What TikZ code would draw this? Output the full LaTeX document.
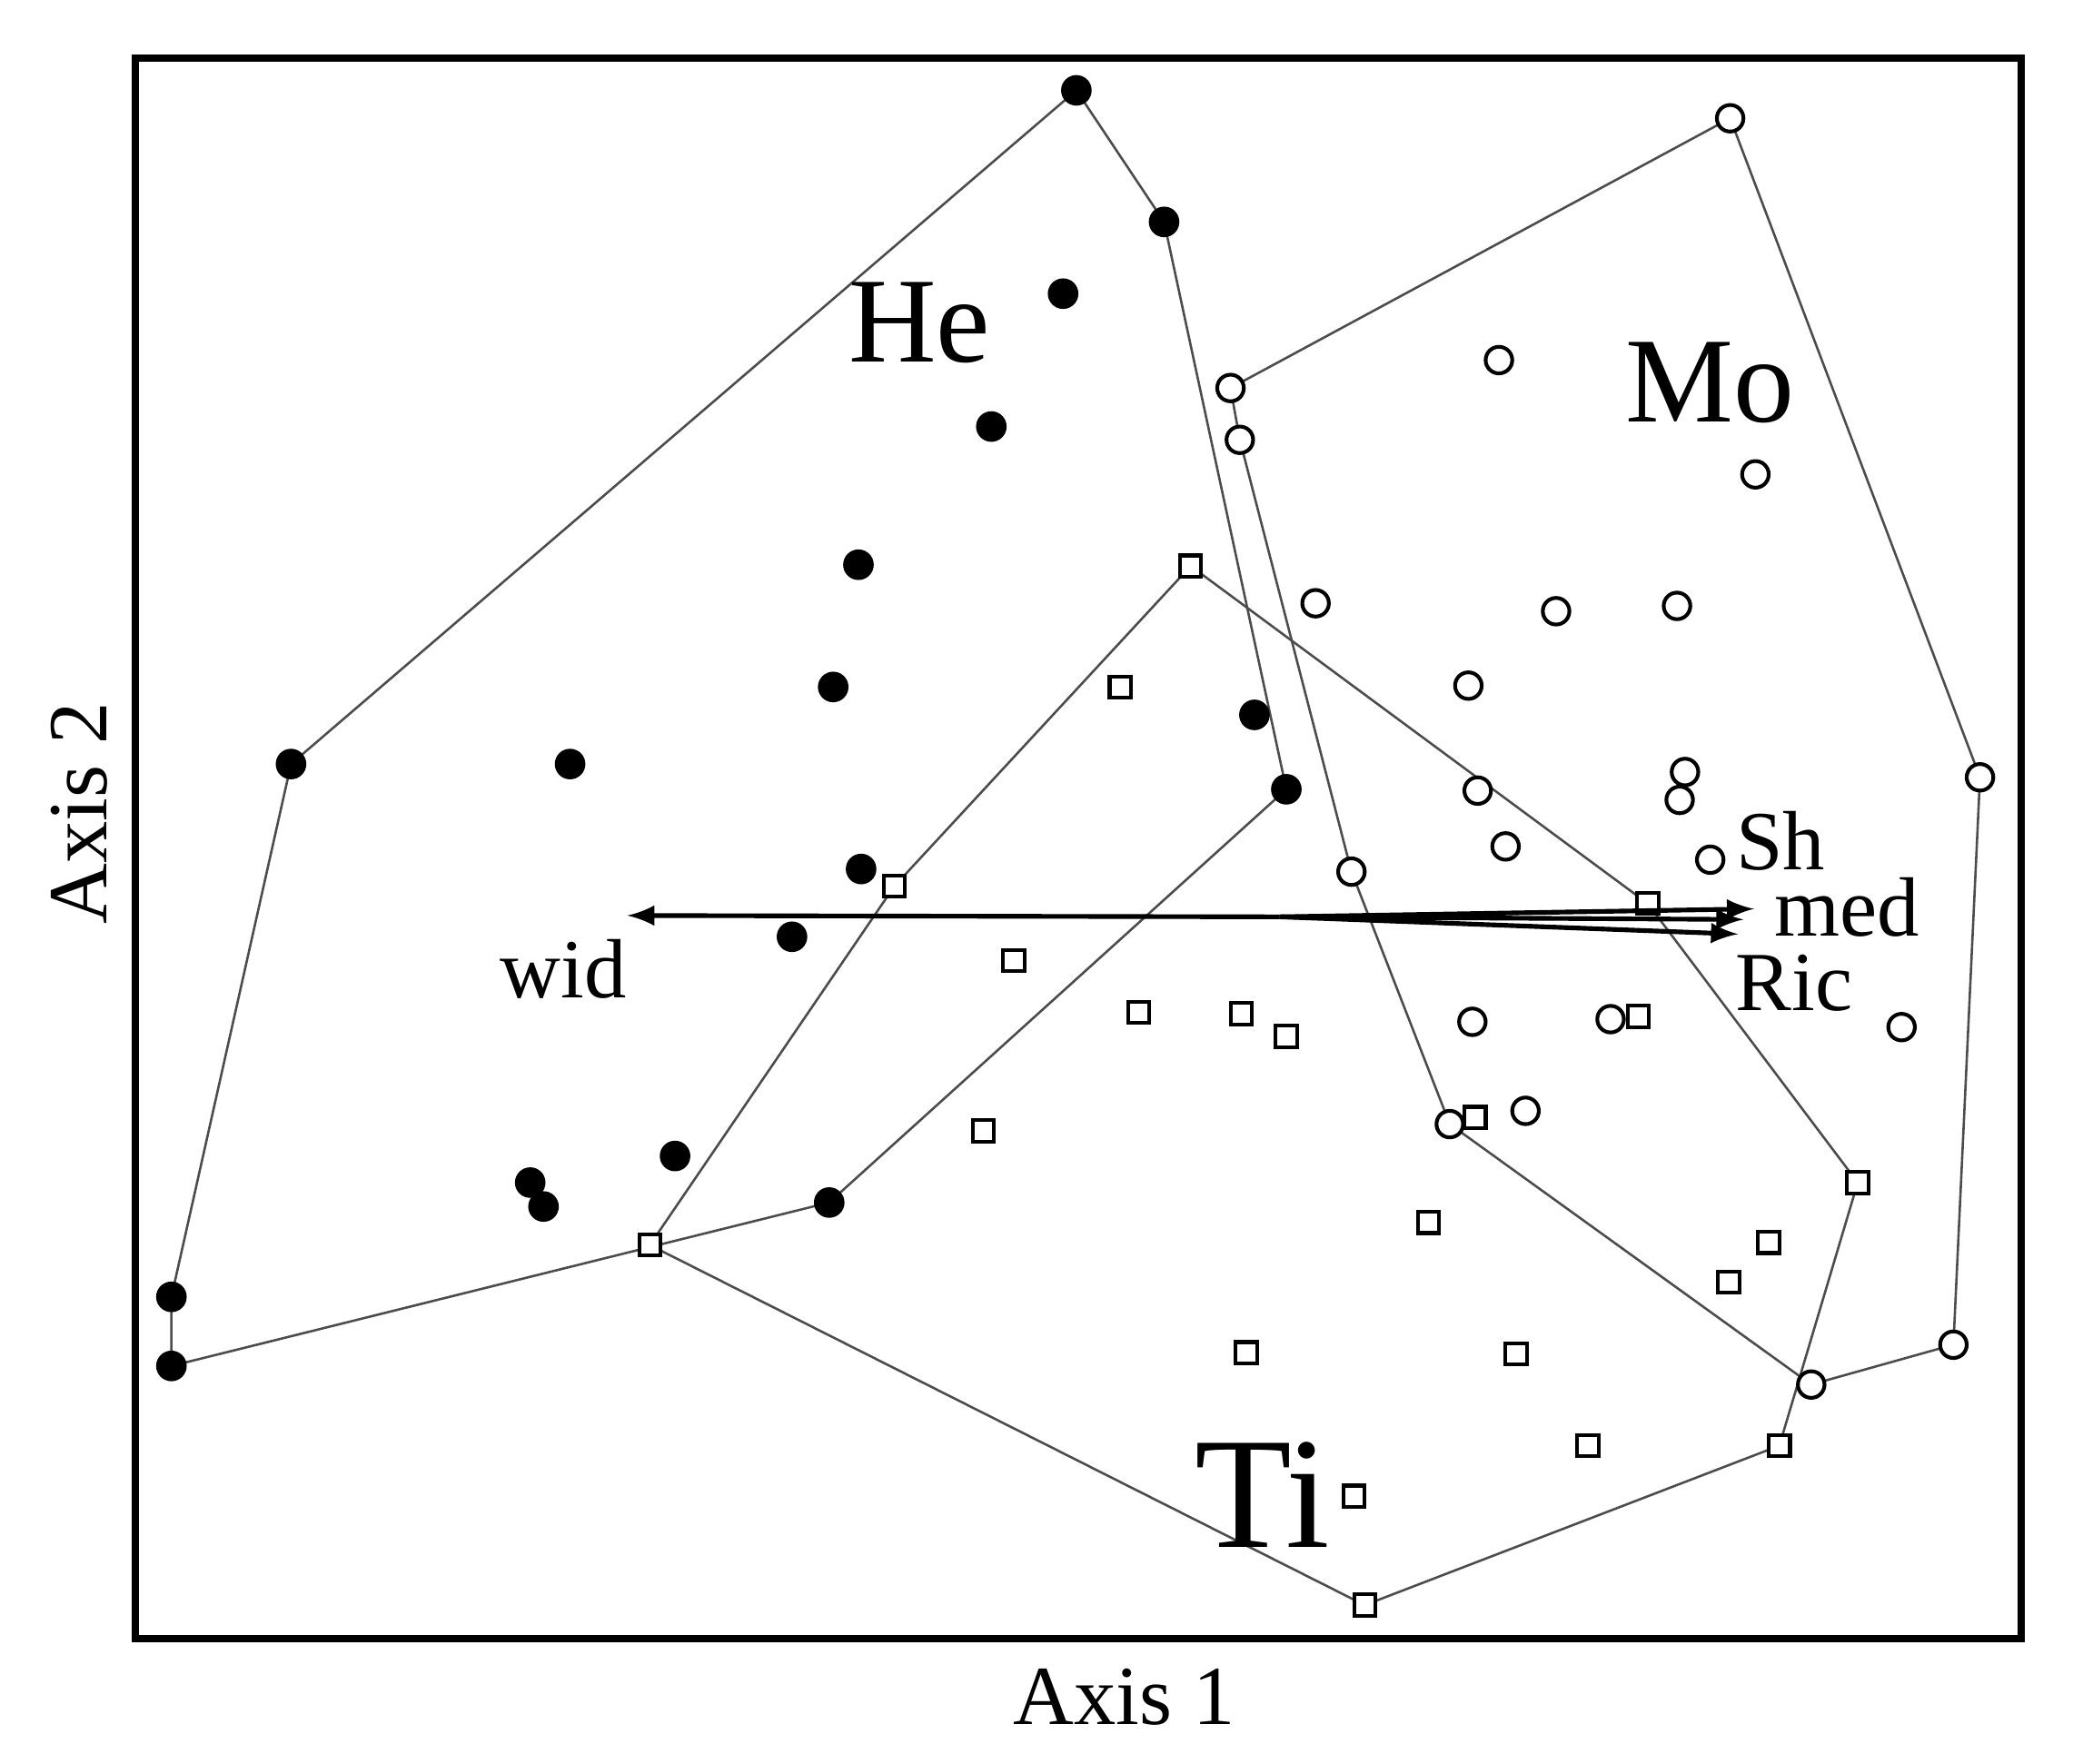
\documentclass[tikz,border=0pt]{standalone}
\usepackage{fontspec}
\setmainfont{Liberation Serif}
\begin{document}
\begin{tikzpicture}[x=0.01cm,y=-0.01cm,
  hull/.style={draw=black!70,line width=0.5pt},
  he/.style={circle,fill=black,inner sep=0pt,minimum size=0.23cm},
  mo/.style={circle,draw=black,line width=0.8pt,fill=white,inner sep=0pt,minimum size=0.2cm},
  ti/.style={rectangle,draw=black,line width=0.8pt,fill=white,inner sep=0pt,minimum size=0.16cm},
  vec/.style={->,>=latex,line width=1pt},
  grp/.style={font=\fontsize{26}{26}\selectfont},
  lab/.style={font=\fontsize{18}{18}\selectfont}]
\useasboundingbox (0,0) rectangle (1560,1327);
% hulls
\draw[hull] (810,68)--(876,167)--(968,594)--(624,905)--(129,1028)--(129,976)--(219,575)--cycle;
\draw[hull] (1302,89)--(1490,585)--(1470,1012)--(1363,1042)--(1091,846)--(1017,656)--(933,331)--(926,292)--cycle;
\draw[hull] (896,426)--(1240,680)--(1398,890)--(1339,1088)--(1027,1208)--(489,937)--(673,667)--cycle;
% He
\foreach \p [count=\i] in {(810,68),(876,167),(800,221),(746,321),(646,425),(627,517),(944,538),(968,594),(429,575),(219,575),(648,654),(596,705),(508,870),(399,890),(409,908),(624,905),(129,976),(129,1028)}
  \node[he] (h\i) at \p {};
% Mo
\foreach \p [count=\i] in {(1302,89),(926,292),(933,331),(1128,271),(1321,357),(990,454),(1171,460),(1262,456),(1105,516),(1268,581),(1264,602),(1112,595),(1133,637),(1287,647),(1017,656),(1108,769),(1212,767),(1431,773),(1148,836),(1091,846),(1490,585),(1470,1012),(1363,1042)}
  \node[mo] (m\i) at \p {};
% Ti
\foreach \p [count=\i] in {(896,426),(843,517),(673,667),(763,723),(857,762),(934,763),(968,780),(740,851),(1240,680),(1233,765),(1110,841),(1398,890),(1075,920),(1331,935),(1301,965),(938,1018),(1141,1019),(1195,1088),(1339,1088),(1019,1126),(1027,1208),(489,937)}
  \node[ti] (t\i) at \p {};
% vectors
\coordinate (o) at (963,690);
\coordinate (wid) at (472,689);
\coordinate (sh) at (1320,684);
\coordinate (med) at (1312,692);
\coordinate (ric) at (1308,703);
\draw[vec] (o)--(wid);
\draw[vec] (o)--(sh);
\draw[vec] (o)--(med);
\draw[vec] (o)--(ric);
\node[lab] at (424,729) {wid};
\node[lab] at (1340,633) {Sh};
\node[lab] at (1390,683) {med};
\node[lab] at (1350,740) {Ric};
\node[grp] at (692,243) {He};
\node[grp] at (1287,288) {Mo};
\node[grp,font=\fontsize{34}{34}\selectfont] at (950,1125) {Ti};
\draw[line width=1.6pt] (102,44) rectangle (1521,1233);
\node[lab] at (846,1277) {Axis 1};
\node[lab,rotate=90] at (60,612) {Axis 2};
\end{tikzpicture}
\end{document}
